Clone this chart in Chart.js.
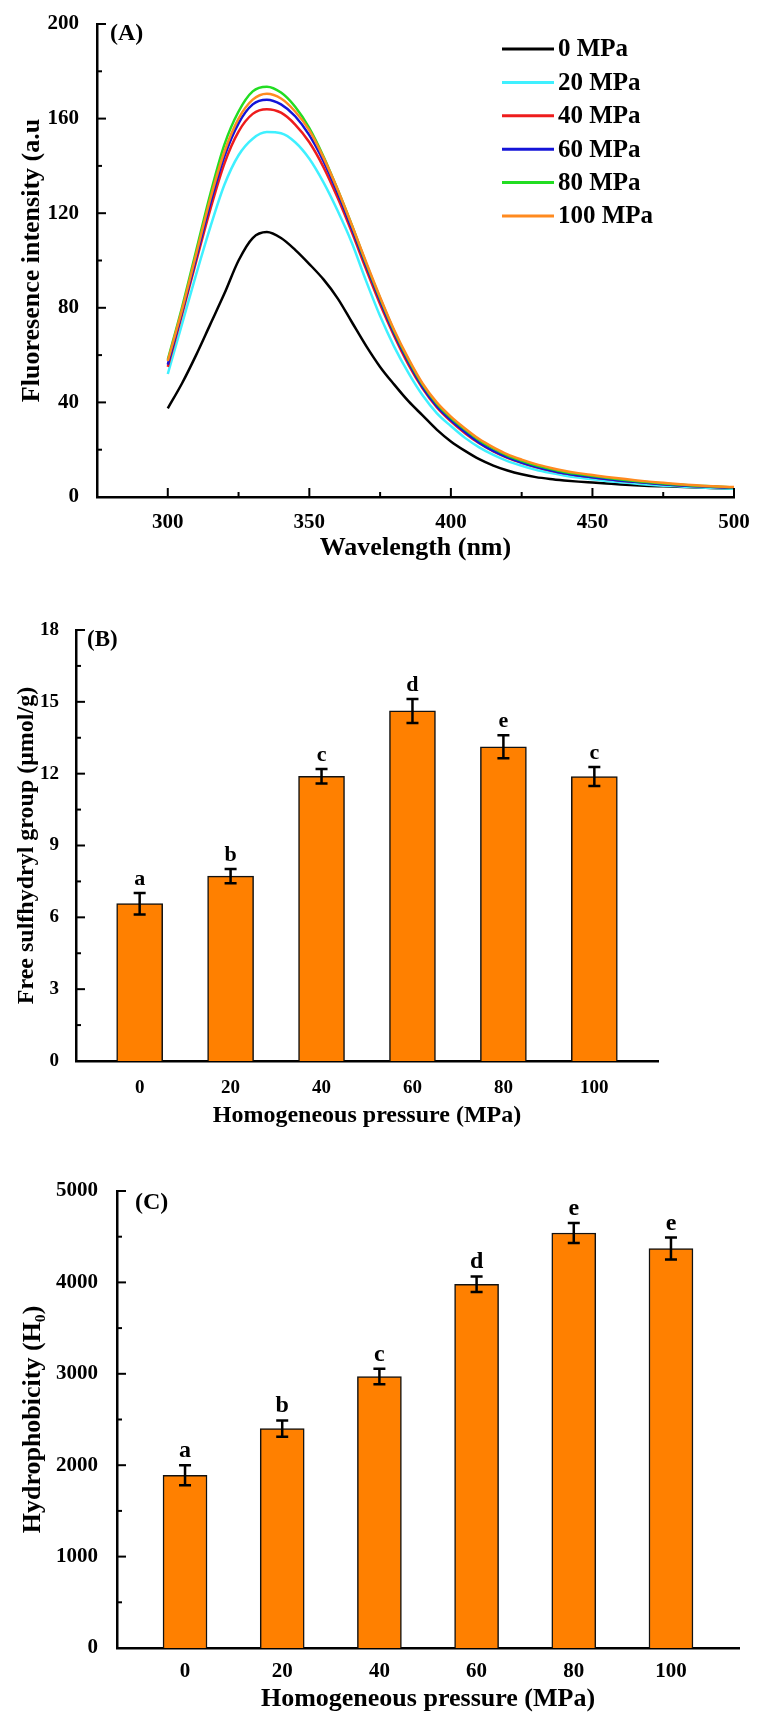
<!DOCTYPE html>
<html>
<head>
<meta charset="utf-8">
<script src="https://cdn.jsdelivr.net/npm/chart.js@4.4.1/dist/chart.umd.min.js"></script>
<style>
  body { margin: 0; background: #fff; }
  canvas { position: absolute; left: 0; }
</style>
</head>
<body>
<canvas id="chartA" width="764" height="580" style="top:0px"></canvas>
<canvas id="chartB" width="764" height="560" style="top:580px"></canvas>
<canvas id="chartC" width="764" height="592" style="top:1140px"></canvas>
<script>
// ---- data (A) fluorescence spectra ----
var wavelengths = [300, 305, 310, 315, 320, 325, 330, 335, 340, 345, 350, 355, 360, 365, 370, 375, 380, 385, 390, 395,
  400, 405, 410, 415, 420, 425, 430, 435, 440, 445, 450, 455, 460, 465, 470, 475, 480, 485, 490, 495, 500];
var mpa0 = [37.5, 48, 60, 73, 86, 100, 109.5, 112, 109.5, 104.5, 98.5, 92, 84, 74, 64, 55, 47.5, 40.5, 34.5, 28.5,
  23.5, 19.5, 16, 13.3, 11.2, 9.6, 8.4, 7.6, 7, 6.5, 6.1, 5.7, 5.3, 5, 4.7, 4.5, 4.3, 4.1, 3.9, 3.7, 3.6];
var mpa20 = [52, 73, 94, 114, 132, 144.5, 151.5, 154.3, 153.8, 150, 143, 133, 121, 107.5, 91.5, 76.5, 63.5, 52.5, 43, 35.5,
  30, 25, 21, 17.8, 15.2, 13.2, 11.5, 10.2, 9.1, 8.2, 7.5, 6.8, 6.2, 5.7, 5.2, 4.8, 4.5, 4.2, 3.9, 3.7, 3.5];
var mpa40 = [55, 77, 99.5, 121.5, 141, 154.5, 162, 164, 162.5, 157.5, 150, 139.5, 126.5, 112, 96.5, 81.5, 68, 56, 46, 38,
  32, 27, 22.7, 19.3, 16.6, 14.5, 12.7, 11.2, 10, 9.1, 8.3, 7.6, 6.9, 6.4, 5.9, 5.4, 5, 4.7, 4.4, 4.1, 3.9];
var mpa60 = [56, 78, 101, 124, 144, 158, 166, 168, 166, 161, 153, 142, 128.5, 113.5, 98, 83, 69, 57, 46.5, 38.5,
  32.5, 27.5, 23, 19.5, 16.8, 14.6, 12.8, 11.3, 10, 9.1, 8.3, 7.6, 6.9, 6.4, 5.9, 5.4, 5, 4.7, 4.4, 4.1, 3.9];
var mpa80 = [58, 80, 104, 128, 149, 163, 171.5, 173.5, 171, 165, 156, 144, 130, 115, 99, 84, 70, 58, 47.5, 39.5,
  33.5, 28.5, 24, 20.5, 17.5, 15.3, 13.4, 11.9, 10.6, 9.7, 8.9, 8.1, 7.4, 6.8, 6.2, 5.7, 5.3, 4.9, 4.6, 4.3, 4.1];
var mpa100 = [57.5, 79, 102.5, 126, 146, 160, 168, 170.5, 168.5, 163, 155, 143.5, 130, 115, 99.5, 84.5, 70.5, 58.5, 48, 40,
  34, 29, 24.5, 21, 18, 15.8, 13.9, 12.4, 11.1, 10.1, 9.3, 8.5, 7.8, 7.1, 6.5, 6, 5.5, 5.1, 4.7, 4.4, 4.2];
var seriesLabels = ['0 MPa', '20 MPa', '40 MPa', '60 MPa', '80 MPa', '100 MPa'];
var wavelengthTicks = [300, 350, 400, 450, 500];
var intensityTicks = [0, 40, 80, 120, 160, 200];

// ---- data (B) free sulfhydryl, (C) hydrophobicity ----
var pressures = [0, 20, 40, 60, 80, 100];
var sulfhydryl = [6.57, 7.72, 11.89, 14.62, 13.12, 11.88];
var sulfhydrylErr = [0.45, 0.3, 0.3, 0.5, 0.48, 0.4];
var sulfhydrylLetters = ['a', 'b', 'c', 'd', 'e', 'c'];
var sulfhydrylTicks = [0, 3, 6, 9, 12, 15, 18];
var hydro = [1890, 2400, 2970, 3980, 4540, 4370];
var hydroErr = [110, 90, 85, 85, 110, 120];
var hydroLetters = ['a', 'b', 'c', 'd', 'e', 'e'];
var hydroTicks = [0, 1000, 2000, 3000, 4000, 5000];

Chart.defaults.font.family = '"Liberation Serif", "Times New Roman", serif';
Chart.defaults.font.weight = 'bold';
Chart.defaults.color = '#000';

var SERIF = '"Liberation Serif", "Times New Roman", serif';
var colors = ['#000000', '#3ff0ff', '#ee1c1c', '#1414d8', '#22dd22', '#ff8a1f'];

// inward major + minor ticks
var innerTicks = {
  id: 'innerTicks',
  afterDatasetsDraw: function(chart, args, opts) {
    var ctx = chart.ctx, area = chart.chartArea;
    ctx.save();
    ctx.strokeStyle = '#000';
    ctx.lineWidth = 2;
    (opts.axes || []).forEach(function(id) {
      var s = chart.scales[id];
      var vals = s.ticks.map(function(t) { return t.value; });
      var minors = vals.slice(1).map(function(v, i) { return (v + vals[i]) / 2; });
      function draw(v, len) {
        var p = s.getPixelForValue(v);
        ctx.beginPath();
        if (s.isHorizontal()) { ctx.moveTo(p, area.bottom); ctx.lineTo(p, area.bottom - len); }
        else { ctx.moveTo(area.left, p); ctx.lineTo(area.left + len, p); }
        ctx.stroke();
      }
      vals.forEach(function(v) { draw(v, 9); });
      minors.forEach(function(v) { draw(v, 5); });
    });
    ctx.restore();
  }
};

function panelLabel(text, x, y, size) {
  return {
    id: 'panelLabel',
    afterDraw: function(chart) {
      var ctx = chart.ctx;
      ctx.save();
      ctx.font = 'bold ' + size + 'px ' + SERIF;
      ctx.fillStyle = '#000';
      ctx.textBaseline = 'middle';
      ctx.fillText(text, x, y);
      ctx.restore();
    }
  };
}

function errorBars(errors, letters, size) {
  return {
    id: 'errorBars',
    afterDatasetsDraw: function(chart) {
      var ctx = chart.ctx, xs = chart.scales.x, ys = chart.scales.y;
      var pts = chart.data.datasets[0].data;
      ctx.save();
      ctx.strokeStyle = '#000';
      ctx.fillStyle = '#000';
      ctx.lineWidth = 2.5;
      ctx.font = 'bold ' + size + 'px ' + SERIF;
      ctx.textAlign = 'center';
      pts.forEach(function(pt, i) {
        var x = xs.getPixelForValue(pt.x);
        var top = ys.getPixelForValue(pt.y + errors[i]);
        var bot = ys.getPixelForValue(pt.y - errors[i]);
        ctx.beginPath();
        ctx.moveTo(x, top); ctx.lineTo(x, bot);
        ctx.moveTo(x - 6, top); ctx.lineTo(x + 6, top);
        ctx.moveTo(x - 6, bot); ctx.lineTo(x + 6, bot);
        ctx.stroke();
        ctx.fillText(letters[i], x, top - 8);
      });
      ctx.restore();
    }
  };
}

var insideLegend = {
  id: 'insideLegend',
  afterDraw: function(chart) {
    var ctx = chart.ctx;
    ctx.save();
    ctx.font = 'bold 25px ' + SERIF;
    ctx.textBaseline = 'middle';
    chart.data.datasets.forEach(function(ds, i) {
      var y = 49 + i * 33.4;
      ctx.strokeStyle = ds.borderColor;
      ctx.lineWidth = 3;
      ctx.beginPath(); ctx.moveTo(502, y); ctx.lineTo(554, y); ctx.stroke();
      ctx.fillStyle = '#000';
      ctx.fillText(ds.label, 558, y + 1);
    });
    ctx.restore();
  }
};

function plainLabel(v) { return String(v); }

function axisCfg(o) {
  return {
    type: 'linear', min: o.min, max: o.max, offset: false,
    afterBuildTicks: function(s) { s.ticks = o.ticks.map(function(v) { return { value: v }; }); },
    afterFit: function(s) { if (o.width) s.width = o.width; if (o.height) s.height = o.height; },
    grid: { display: false },
    border: { display: true, color: '#000', width: 2.5 },
    ticks: { padding: o.pad, font: { size: o.tickSize }, color: '#000', callback: plainLabel, maxRotation: 0 },
    title: { display: true, text: o.title, font: { size: o.titleSize }, color: '#000', padding: o.titlePad }
  };
}

// ---- (A) ----
var spectra = [mpa0, mpa20, mpa40, mpa60, mpa80, mpa100];
new Chart(document.getElementById('chartA'), {
  type: 'line',
  data: {
    datasets: spectra.map(function(arr, i) {
      return {
        label: seriesLabels[i],
        data: arr.map(function(v, j) { return { x: wavelengths[j], y: v }; }),
        borderColor: colors[i],
        borderWidth: 2.5,
        pointRadius: 0,
        fill: false,
        cubicInterpolationMode: 'monotone',
        order: spectra.length - 1 - i
      };
    })
  },
  options: {
    responsive: false,
    animation: false,
    layout: { padding: { left: 0, right: 30, top: 24, bottom: 0 } },
    plugins: { legend: { display: false }, tooltip: { enabled: false }, innerTicks: { axes: ['x', 'y'] } },
    scales: {
      x: axisCfg({ min: 275, max: 500, ticks: wavelengthTicks, height: 83, pad: 5, tickSize: 21,
        title: 'Wavelength (nm)', titleSize: 26, titlePad: { bottom: 16 } }),
      y: axisCfg({ min: 0, max: 200, ticks: intensityTicks, width: 97, pad: 10, tickSize: 21,
        title: 'Fluoresence intensity (a.u', titleSize: 26, titlePad: { top: 17 } })
    }
  },
  plugins: [innerTicks, insideLegend, panelLabel('(A)', 110, 34, 24)]
});

// ---- (B) ----
new Chart(document.getElementById('chartB'), {
  type: 'bar',
  data: {
    datasets: [{
      data: pressures.map(function(p, i) { return { x: p, y: sulfhydryl[i] }; }),
      backgroundColor: '#ff8000',
      borderColor: '#111',
      borderWidth: 1.5,
      barThickness: 46
    }]
  },
  options: {
    responsive: false,
    animation: false,
    layout: { padding: { left: 0, right: 106, top: 50, bottom: 0 } },
    plugins: { legend: { display: false }, tooltip: { enabled: false }, innerTicks: { axes: ['y'] } },
    scales: {
      x: axisCfg({ min: -14, max: 114, ticks: pressures, height: 79, pad: 8, tickSize: 19,
        title: 'Homogeneous pressure (MPa)', titleSize: 24, titlePad: { bottom: 10 } }),
      y: axisCfg({ min: 0, max: 18, ticks: sulfhydrylTicks, width: 76, pad: 9, tickSize: 19,
        title: 'Free sulfhydryl group (\u03bcmol/g)', titleSize: 24, titlePad: { top: 12 } })
    }
  },
  plugins: [innerTicks, errorBars(sulfhydrylErr, sulfhydrylLetters, 22), panelLabel('(B)', 87, 60, 23)]
});

// ---- (C) ----
new Chart(document.getElementById('chartC'), {
  type: 'bar',
  data: {
    datasets: [{
      data: pressures.map(function(p, i) { return { x: p, y: hydro[i] }; }),
      backgroundColor: '#ff8000',
      borderColor: '#111',
      borderWidth: 1.5,
      barThickness: 44
    }]
  },
  options: {
    responsive: false,
    animation: false,
    layout: { padding: { left: 0, right: 25, top: 51, bottom: 0 } },
    plugins: { legend: { display: false }, tooltip: { enabled: false }, innerTicks: { axes: ['y'] } },
    scales: {
      x: axisCfg({ min: -14, max: 114, ticks: pressures, height: 84, pad: 3, tickSize: 21,
        title: 'Homogeneous pressure (MPa)', titleSize: 26, titlePad: { bottom: 17 } }),
      y: axisCfg({ min: 0, max: 5000, ticks: hydroTicks, width: 117, pad: 11, tickSize: 21,
        title: 'Hydrophobicity (H\u2080)', titleSize: 26, titlePad: { top: 18 } })
    }
  },
  plugins: [innerTicks, errorBars(hydroErr, hydroLetters, 24), panelLabel('(C)', 135, 63, 24)]
});
</script>
</body>
</html>
